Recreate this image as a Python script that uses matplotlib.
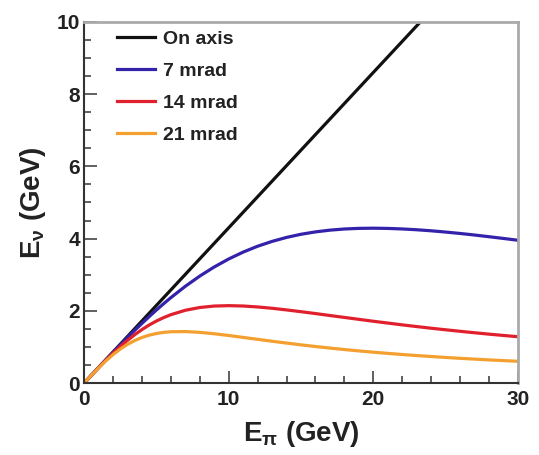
import numpy as np
import matplotlib.pyplot as plt
from matplotlib.ticker import MultipleLocator

# pion energy (GeV) and neutrino energy (GeV) for each off-axis angle
e_pi = [0, 0.5, 1, 1.5, 2, 2.5, 3, 3.5, 4, 4.5, 5, 5.5, 6,
        7, 8, 9, 10, 11, 12, 13, 14, 15, 16, 17, 18, 19, 20,
        21, 22, 23, 24, 25, 26, 27, 28, 29, 30]
on_axis_x = [0, 30]
on_axis_y = [0, 12.9]
mrad7 = [0, 0.215, 0.429, 0.641, 0.851, 1.058, 1.261, 1.460, 1.653, 1.841, 2.023, 2.198, 2.366,
         2.680, 2.963, 3.215, 3.436, 3.627, 3.789, 3.923, 4.033, 4.120, 4.186, 4.234, 4.266, 4.283, 4.288,
         4.282, 4.267, 4.245, 4.216, 4.181, 4.142, 4.099, 4.052, 4.004, 3.954]
mrad14 = [0, 0.215, 0.426, 0.631, 0.827, 1.012, 1.183, 1.340, 1.482, 1.608, 1.718, 1.813, 1.894,
          2.016, 2.093, 2.133, 2.144, 2.134, 2.108, 2.071, 2.026, 1.977, 1.925, 1.871, 1.818, 1.765, 1.712,
          1.662, 1.612, 1.565, 1.519, 1.476, 1.434, 1.394, 1.355, 1.319, 1.284]
mrad21 = [0, 0.214, 0.420, 0.614, 0.789, 0.942, 1.072, 1.178, 1.263, 1.327, 1.373, 1.404, 1.422,
          1.427, 1.405, 1.366, 1.318, 1.265, 1.212, 1.159, 1.108, 1.059, 1.013, 0.970, 0.929, 0.891, 0.856,
          0.823, 0.792, 0.763, 0.736, 0.710, 0.686, 0.664, 0.642, 0.623, 0.604]

plt.rcParams['font.family'] = ['Liberation Sans', 'DejaVu Sans']
plt.rcParams['font.weight'] = 'bold'
plt.rcParams['mathtext.default'] = 'regular'

fig = plt.figure(figsize=(5.39, 4.55), dpi=100)
ax = fig.add_axes([0.156, 0.158, 0.805, 0.794])

ax.plot(on_axis_x, on_axis_y, color='#111111', lw=2.3, label='On axis')
ax.plot(e_pi, mrad7, color='#3322aa', lw=2.3, label='7 mrad')
ax.plot(e_pi, mrad14, color='#e0202c', lw=2.3, label='14 mrad')
ax.plot(e_pi, mrad21, color='#f4a030', lw=2.3, label='21 mrad')

ax.set_xlim(0, 30)
ax.set_ylim(0, 10)
ax.xaxis.set_major_locator(MultipleLocator(10))
ax.xaxis.set_minor_locator(MultipleLocator(2))
ax.yaxis.set_major_locator(MultipleLocator(2))
ax.yaxis.set_minor_locator(MultipleLocator(0.5))
ax.tick_params(which='both', direction='in', top=False, right=False,
               color='#444444', width=1.2, labelsize=15)
ax.tick_params(which='major', length=9, pad=3)
ax.tick_params(axis='x', which='major', pad=5)
ax.tick_params(which='minor', length=5)
for lab in ax.get_xticklabels() + ax.get_yticklabels():
    lab.set_fontweight('bold')
    lab.set_color('#222222')

for side in ['left', 'bottom']:
    ax.spines[side].set_color('#333333')
    ax.spines[side].set_linewidth(1.5)
for side in ['top', 'right']:
    ax.spines[side].set_color('#aaaaaa')
    ax.spines[side].set_linewidth(2)

ax.set_xlabel(r'E$_{\pi}$ (GeV)', fontsize=20, fontweight='bold', color='#222222', labelpad=7)
ax.set_ylabel(r'E$_{\nu}$ (GeV)', fontsize=20, fontweight='bold', color='#222222', labelpad=6)

leg = ax.legend(loc='upper left', frameon=False, fontsize=14,
                handlelength=1.95, handletextpad=0.4, labelspacing=0.74,
                borderpad=0, borderaxespad=0, bbox_to_anchor=(0.076, 0.977))
for t in leg.get_texts():
    t.set_fontweight('bold')
    t.set_color('#222222')

fig.savefig('out.png', dpi=100)
